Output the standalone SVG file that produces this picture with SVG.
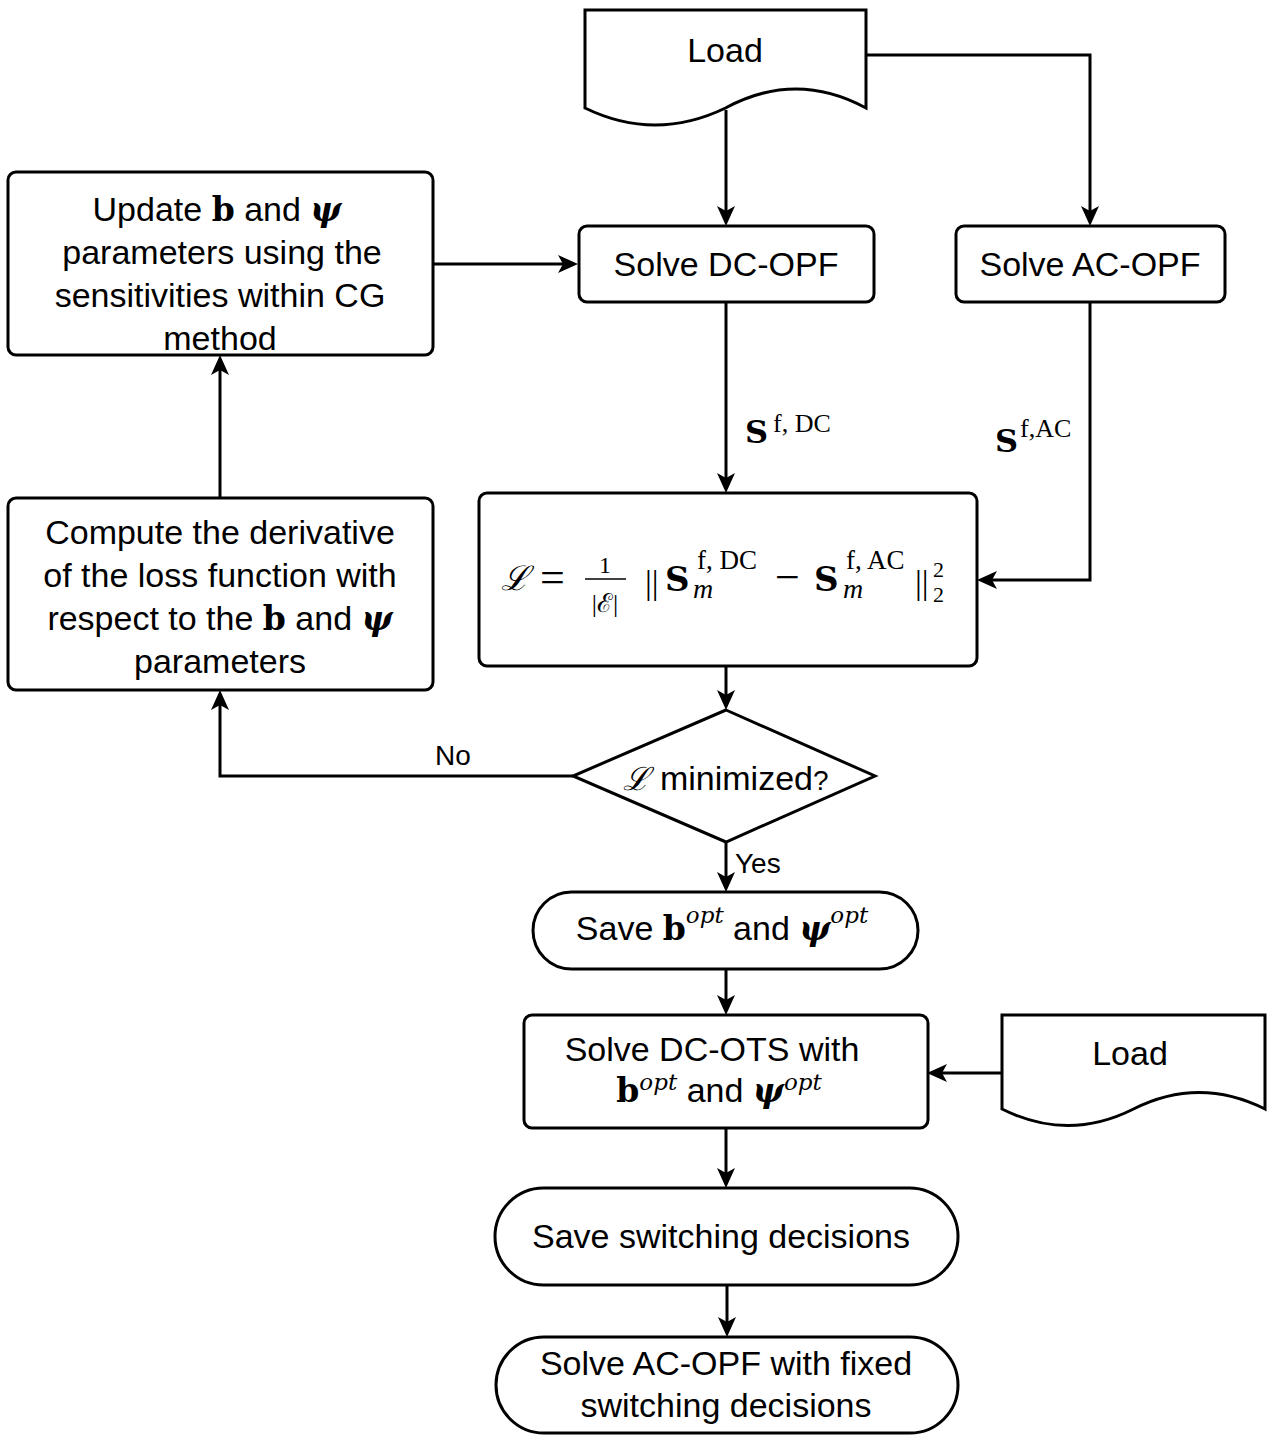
<svg xmlns="http://www.w3.org/2000/svg" width="1285" height="1450" viewBox="0 0 1285 1450">
<style>
.box{fill:#fff;stroke:#000;stroke-width:3}
.edge{fill:none;stroke:#000;stroke-width:3;marker-end:url(#arr)}
.t{font-family:"Liberation Sans",Arial,sans-serif;font-size:34px;fill:#000;text-anchor:middle}
.lbl{font-family:"Liberation Sans",Arial,sans-serif;font-size:28px;fill:#000}
.m{font-family:"Liberation Serif","DejaVu Serif",serif;fill:#000}
.sb{font-family:"DejaVu Serif",serif;font-weight:bold;fill:#000}
.bb{font-family:"DejaVu Serif",serif;font-weight:bold;font-size:33px}
.bi{font-family:"DejaVu Serif",serif;font-weight:bold;font-style:italic;font-size:33px}
.op{font-family:"DejaVu Serif",serif;font-style:italic;font-size:23px}
</style>
<defs>
<marker id="arr" viewBox="0 0 20 18" refX="16" refY="9" markerWidth="20" markerHeight="18" markerUnits="userSpaceOnUse" orient="auto">
<path d="M0,0 L20,9 L0,18 L5,9 Z" fill="#000"/>
</marker>
</defs>
<rect width="1285" height="1450" fill="#fff"/>

<g id="connectors">
<path class="edge" d="M726,110 V222"/>
<path class="edge" d="M866,55 H1090 V222"/>
<path class="edge" d="M433,264 H574"/>
<path class="edge" d="M220,497 V359"/>
<path class="edge" d="M726,302 V489"/>
<path class="edge" d="M1090,302 V580 H981"/>
<path class="edge" d="M726,666 V706"/>
<path class="edge" d="M573,776 H220 V694"/>
<path class="edge" d="M726,842 V888"/>
<path class="edge" d="M726,969 V1011"/>
<path class="edge" d="M1002,1073 H931"/>
<path class="edge" d="M726,1128 V1184"/>
<path class="edge" d="M727,1285 V1333"/>
<text class="lbl" x="435" y="765">No</text>
<text class="lbl" x="735" y="873">Yes</text>
<g id="label-sdc">
<text class="sb" x="745" y="443" font-size="32">S</text>
<text class="m" x="773" y="432" font-size="26">f, DC</text>
</g>
<g id="label-sac">
<text class="sb" x="995" y="452" font-size="32">S</text>
<text class="m" x="1020" y="437" font-size="26">f,AC</text>
</g>
</g>

<g id="load1">
<path class="box" d="M585,10 H866 V108 Q796,70 725.5,108 Q655,142 585,108 Z"/>
<text class="t" x="725" y="62">Load</text>
</g>

<g id="solve-dc-opf">
<rect class="box" x="579" y="226" width="295" height="76" rx="8"/>
<text class="t" x="726" y="276">Solve DC-OPF</text>
</g>

<g id="solve-ac-opf">
<rect class="box" x="956" y="226" width="269" height="76" rx="8"/>
<text class="t" x="1090" y="276">Solve AC-OPF</text>
</g>

<g id="update">
<rect class="box" x="8" y="172" width="425" height="183" rx="8"/>
<text class="t" x="217" y="221">Update <tspan class="bb">b</tspan> and <tspan class="bi">ψ</tspan></text>
<text class="t" x="222" y="264">parameters using the</text>
<text class="t" x="220" y="307">sensitivities within CG</text>
<text class="t" x="220" y="350">method</text>
</g>

<g id="compute">
<rect class="box" x="8" y="498" width="425" height="192" rx="8"/>
<text class="t" x="220" y="544">Compute the derivative</text>
<text class="t" x="220" y="587">of the loss function with</text>
<text class="t" x="220" y="630">respect to the <tspan class="bb">b</tspan> and <tspan class="bi">ψ</tspan></text>
<text class="t" x="220" y="673">parameters</text>
</g>

<g id="loss">
<rect class="box" x="479" y="493" width="498" height="173" rx="8"/>
<text class="m" x="501" y="590" font-size="34" font-style="italic">ℒ</text>
<text class="m" x="540" y="592" font-size="44">=</text>
<text class="m" x="605" y="573" font-size="24" text-anchor="middle">1</text>
<line x1="585" y1="579" x2="626" y2="579" stroke="#000" stroke-width="1.5"/>
<text class="m" x="605" y="612" font-size="26" text-anchor="middle">|ℰ|</text>
<text class="m" x="645" y="594" font-size="34">||</text>
<text class="sb" x="665" y="591" font-size="34">S</text>
<text class="m" x="697" y="569" font-size="27">f, DC</text>
<text class="m" x="693" y="598" font-size="28" font-style="italic">m</text>
<text class="m" x="775" y="592" font-size="44">−</text>
<text class="sb" x="814" y="591" font-size="34">S</text>
<text class="m" x="846" y="569" font-size="27">f, AC</text>
<text class="m" x="843" y="598" font-size="28" font-style="italic">m</text>
<text class="m" x="915" y="594" font-size="34">||</text>
<text class="m" x="933" y="577" font-size="22">2</text>
<text class="m" x="933" y="602" font-size="22">2</text>
</g>

<g id="decision">
<path class="box" d="M726,710 L875,776 L726,842 L573,776 Z"/>
<text class="t" x="726" y="790"><tspan class="m" font-style="italic" font-size="32">ℒ</tspan> minimized<tspan font-size="28">?</tspan></text>
</g>

<g id="save-opt">
<rect class="box" x="533" y="892" width="385" height="77" rx="38.5"/>
<text class="t" x="722" y="940">Save <tspan class="bb">b</tspan><tspan class="op" dy="-17">opt</tspan><tspan dy="17"> and </tspan><tspan class="bi">ψ</tspan><tspan class="op" dy="-17">opt</tspan></text>
</g>

<g id="dc-ots">
<rect class="box" x="524" y="1015" width="404" height="113" rx="8"/>
<text class="t" x="712" y="1061">Solve DC-OTS with</text>
<text class="t" x="719" y="1102"><tspan class="bb">b</tspan><tspan class="op" dy="-12">opt</tspan><tspan dy="12"> and </tspan><tspan class="bi">ψ</tspan><tspan class="op" dy="-12">opt</tspan></text>
</g>

<g id="load2">
<path class="box" d="M1002,1015 H1265 V1109 Q1199,1076 1133.5,1109 Q1068,1142 1002,1109 Z"/>
<text class="t" x="1130" y="1065">Load</text>
</g>

<g id="save-switch">
<rect class="box" x="495" y="1188" width="463" height="97" rx="48.5"/>
<text class="t" x="721" y="1248">Save switching decisions</text>
</g>

<g id="solve-ac-fixed">
<rect class="box" x="496" y="1337" width="462" height="96" rx="48"/>
<text class="t" x="726" y="1375">Solve AC-OPF with fixed</text>
<text class="t" x="726" y="1417">switching decisions</text>
</g>
</svg>
